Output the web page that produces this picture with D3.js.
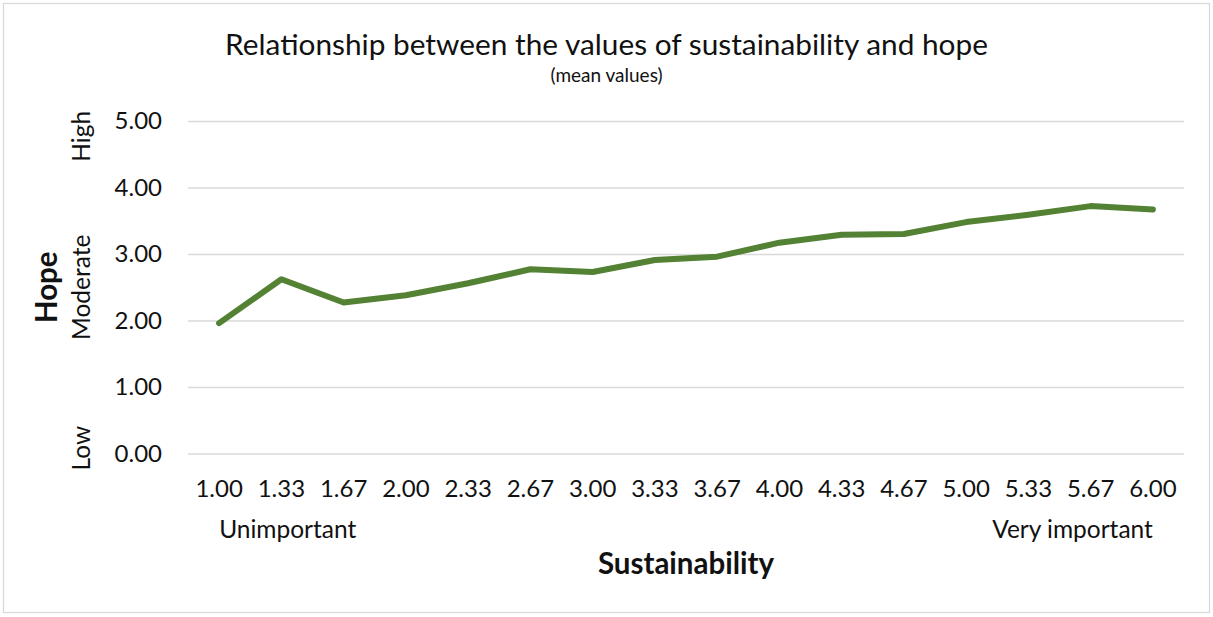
<!DOCTYPE html>
<html>
<head>
<meta charset="utf-8">
<script src="https://cdn.jsdelivr.net/npm/d3@7"></script>
<style>
  html, body { margin: 0; padding: 0; background: #fff; }
  svg { display: block; }
  text { font-family: Lato, "Open Sans", sans-serif; fill: #111; }
</style>
</head>
<body>
<svg id="chart" width="1213" height="617"></svg>
<script>
// Sustainability score levels (x categories) and mean hope score at each level
const sustainability = ["1.00","1.33","1.67","2.00","2.33","2.67","3.00","3.33",
                        "3.67","4.00","4.33","4.67","5.00","5.33","5.67","6.00"];
const hopeMeans = [1.96, 2.62, 2.27, 2.38, 2.56, 2.77, 2.73, 2.91,
                   2.96, 3.17, 3.29, 3.30, 3.48, 3.59, 3.72, 3.67];
const yTicks = [0, 1, 2, 3, 4, 5];
const hopeLevels = [["High", 4.77], ["Moderate", 2.5], ["Low", 0.08]];
const importanceLabels = ["Unimportant", "Very important"];

const W = 1213, H = 617;
const plot = { left: 188, right: 1184, top: 121, bottom: 453.5 };

const svg = d3.select("#chart");

// outer frame
svg.append("rect")
  .attr("x", 3.5).attr("y", 3.5)
  .attr("width", W - 7).attr("height", H - 8)
  .attr("fill", "#fff").attr("stroke", "#d9d9d9").attr("stroke-width", 1.3);

const x = d3.scaleBand().domain(sustainability).range([plot.left, plot.right]);
const y = d3.scaleLinear().domain([0, 5]).range([plot.bottom, plot.top]);

// horizontal gridlines with value labels
const yAxis = svg.append("g")
  .attr("transform", `translate(${plot.left},0)`)
  .call(d3.axisLeft(y).tickValues(yTicks).tickFormat(d3.format(".2f"))
          .tickSize(-(plot.right - plot.left)).tickPadding(26));
yAxis.select(".domain").remove();
yAxis.selectAll(".tick line").attr("stroke", "#d9d9d9").attr("stroke-width", 1.5);
yAxis.selectAll(".tick text").style("font-size", "24px").attr("fill", "#111");

// category labels along the bottom
const xAxis = svg.append("g")
  .attr("transform", `translate(0,${plot.bottom})`)
  .call(d3.axisBottom(x).tickSize(0).tickPadding(26));
xAxis.select(".domain").remove();
xAxis.selectAll(".tick text").style("font-size", "24px").attr("fill", "#111");

// mean hope line
const line = d3.line()
  .x((d, i) => x(sustainability[i]) + x.bandwidth() / 2)
  .y(d => y(d));
svg.append("path")
  .datum(hopeMeans)
  .attr("d", line)
  .attr("fill", "none")
  .attr("stroke", "#548235")
  .attr("stroke-width", 6)
  .attr("stroke-linejoin", "round")
  .attr("stroke-linecap", "round");

// title and subtitle
svg.append("text")
  .attr("x", W / 2).attr("y", 55)
  .attr("text-anchor", "middle")
  .style("font-size", "29.8px")
  .text("Relationship between the values of sustainability and hope");
svg.append("text")
  .attr("x", W / 2).attr("y", 82)
  .attr("text-anchor", "middle")
  .style("font-size", "19px")
  .text("(mean values)");

// x-axis end annotations
const firstX = x(sustainability[0]) + x.bandwidth() / 2;
const lastX = x(sustainability[sustainability.length - 1]) + x.bandwidth() / 2;
svg.append("text")
  .attr("x", firstX).attr("y", 538)
  .attr("text-anchor", "start")
  .style("font-size", "24.5px")
  .text(importanceLabels[0]);
svg.append("text")
  .attr("x", lastX).attr("y", 538)
  .attr("text-anchor", "end")
  .style("font-size", "24.5px")
  .text(importanceLabels[1]);

// x-axis title
svg.append("text")
  .attr("x", (plot.left + plot.right) / 2).attr("y", 574)
  .attr("text-anchor", "middle")
  .style("font-size", "29.5px").style("font-weight", "bold")
  .text("Sustainability");

// y-axis title and level labels (rotated)
svg.append("text")
  .attr("transform", `translate(57,${y(2.5)}) rotate(-90)`)
  .attr("text-anchor", "middle")
  .style("font-size", "29.5px").style("font-weight", "bold")
  .text("Hope");
hopeLevels.forEach(([label, v]) => {
  svg.append("text")
    .attr("transform", `translate(90,${y(v)}) rotate(-90)`)
    .attr("text-anchor", "middle")
    .style("font-size", "24.5px")
    .text(label);
});
</script>
</body>
</html>
